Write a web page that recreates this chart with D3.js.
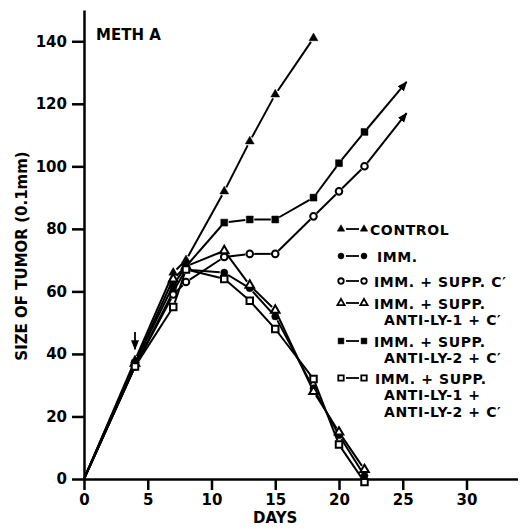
<!DOCTYPE html>
<html>
<head>
<meta charset="utf-8">
<script src="https://cdn.jsdelivr.net/npm/d3@7"></script>
<style>
  body { margin: 0; background: #fff; }
  text { font-family: "DejaVu Sans", sans-serif; font-weight: bold; fill: #000; }
</style>
</head>
<body>
<svg width="524" height="529"></svg>
<script>
// days of measurement
const days = [0, 4, 7, 8, 11, 13, 15, 18, 20, 22];

// tumor size (0.1 mm) for each group
const control  = [0, 38, 66, 70, 92, 108, 123, 141];
const imm      = [0, 36, 60, 67, 66, 61, 52, 29, 14, 1];
const suppC    = [0, 36, 59, 63, 71, 72, 72, 84, 92, 100];
const antiLy1  = [0, 37, 64, 68, 73, 62, 54, 28, 15, 3];
const antiLy2  = [0, 37, 62, 68, 82, 83, 83, 90, 101, 111];
const antiLy12 = [0, 36, 55, 67, 64, 57, 48, 32, 11, -1];

// where the two still-growing curves point to
const arrowTips = [[25.3, 127], [25.3, 117]];

const xTicks = [0, 5, 10, 15, 20, 25, 30];
const yTicks = [0, 20, 40, 60, 80, 100, 120, 140];

const legendLabels = [
  ["CONTROL"],
  ["IMM."],
  ["IMM. + SUPP. C\u2032"],
  ["IMM. + SUPP.", "ANTI-LY-1 + C\u2032"],
  ["IMM. + SUPP.", "ANTI-LY-2 + C\u2032"],
  ["IMM. + SUPP.", "ANTI-LY-1 +", "ANTI-LY-2 + C\u2032"]
];

const svg = d3.select("svg");

const x = d3.scaleLinear().domain([0, 34]).range([84, 517.5]);
const y = d3.scaleLinear().domain([0, 150]).range([479, 10]);

const series = [
  { values: control,  shape: d3.symbolTriangle, size: 34, open: false },
  { values: imm,      shape: d3.symbolCircle,   size: 40, open: false },
  { values: suppC,    shape: d3.symbolCircle,   size: 34, open: true  },
  { values: antiLy1,  shape: d3.symbolTriangle, size: 32, open: true  },
  { values: antiLy2,  shape: d3.symbolSquare,   size: 48, open: false, tip: arrowTips[0] },
  { values: antiLy12, shape: d3.symbolSquare,   size: 42, open: true  }
];
series[2].tip = arrowTips[1];

svg.append("defs").append("marker")
  .attr("id", "head")
  .attr("viewBox", "0 0 10 10")
  .attr("refX", 9).attr("refY", 5)
  .attr("markerWidth", 10).attr("markerHeight", 10)
  .attr("markerUnits", "userSpaceOnUse")
  .attr("orient", "auto")
  .append("path").attr("d", "M0,1 L10,5 L0,9 Z").attr("fill", "#000");

// axes
const gx = svg.append("g").attr("transform", "translate(0," + y(0) + ")")
  .call(d3.axisBottom(x).tickValues(xTicks).tickSize(11).tickSizeOuter(0).tickPadding(4));
const gy = svg.append("g").attr("transform", "translate(" + x(0) + ",0)")
  .call(d3.axisLeft(y).tickValues(yTicks).tickSize(12).tickSizeOuter(0).tickPadding(5));
[gx, gy].forEach(g => {
  g.selectAll("path, line").attr("stroke", "#000").attr("stroke-width", 2.5);
  g.selectAll("text").attr("font-size", 15).attr("font-family", "DejaVu Sans")
    .attr("font-weight", "bold").attr("fill", "#000");
});

svg.append("text").attr("x", 96).attr("y", 40).attr("font-size", 15).text("METH A");
svg.append("text").attr("x", x(15)).attr("y", 523).attr("text-anchor", "middle")
  .attr("font-size", 15).text("DAYS");
svg.append("text")
  .attr("transform", "translate(27," + 256 + ") rotate(-90)")
  .attr("text-anchor", "middle").attr("font-size", 15)
  .text("SIZE OF TUMOR (0.1mm)");

// arrow at day 4 (start of treatment)
svg.append("line")
  .attr("x1", x(4)).attr("x2", x(4)).attr("y1", y(47)).attr("y2", y(41.5))
  .attr("stroke", "#000").attr("stroke-width", 1.8).attr("marker-end", "url(#head)");

// connecting segments, with small gaps at markers
const gap = 4.5;
const lines = svg.append("g").attr("stroke", "#000").attr("stroke-width", 2);
series.forEach(s => {
  const pts = s.values.map((v, i) => [x(days[i]), y(v), days[i] > 0]);
  for (let i = 1; i < pts.length; i++) {
    const a = pts[i - 1], b = pts[i];
    const dx = b[0] - a[0], dy = b[1] - a[1], len = Math.hypot(dx, dy);
    const ga = a[2] ? gap : 0;
    lines.append("line")
      .attr("x1", a[0] + dx / len * ga).attr("y1", a[1] + dy / len * ga)
      .attr("x2", b[0] - dx / len * gap).attr("y2", b[1] - dy / len * gap);
  }
  if (s.tip) {
    const a = pts[pts.length - 1];
    const bx = x(s.tip[0]), by = y(s.tip[1]);
    const dx = bx - a[0], dy = by - a[1], len = Math.hypot(dx, dy);
    lines.append("line")
      .attr("x1", a[0] + dx / len * gap).attr("y1", a[1] + dy / len * gap)
      .attr("x2", bx).attr("y2", by).attr("marker-end", "url(#head)");
  }
});

// markers
series.forEach(s => {
  svg.append("g").selectAll("path")
    .data(s.values.map((v, i) => [days[i], v]).filter(d => d[0] > 0))
    .enter().append("path")
    .attr("d", d3.symbol().type(s.shape).size(s.size))
    .attr("transform", d => "translate(" + x(d[0]) + "," + y(d[1]) + ")")
    .attr("fill", s.open ? "#fff" : "#000")
    .attr("stroke", "#000").attr("stroke-width", s.open ? 2 : 0.5);
});

// legend
const rowY = [229, 256, 281, 303, 341, 378];
const textX = [370, 377, 374, 374, 374, 375];
const legend = svg.append("g");
legendLabels.forEach((lab, i) => {
  const s = series[i];
  const cy = rowY[i];
  legend.append("line").attr("x1", 346).attr("x2", 359).attr("y1", cy).attr("y2", cy)
    .attr("stroke", "#000").attr("stroke-width", 1.8);
  [341, 364].forEach(cx => {
    legend.append("path")
      .attr("d", d3.symbol().type(s.shape).size(s.size * 0.7))
      .attr("transform", "translate(" + cx + "," + cy + ")")
      .attr("fill", s.open ? "#fff" : "#000")
      .attr("stroke", "#000").attr("stroke-width", s.open ? 1.8 : 0.5);
  });
  lab.forEach((t, j) => {
    legend.append("text")
      .attr("x", j === 0 ? textX[i] : 384)
      .attr("y", cy + 5.5 + j * 16.5)
      .attr("font-size", 14)
      .attr("letter-spacing", 0.6)
      .text(t);
  });
});
</script>
</body>
</html>
